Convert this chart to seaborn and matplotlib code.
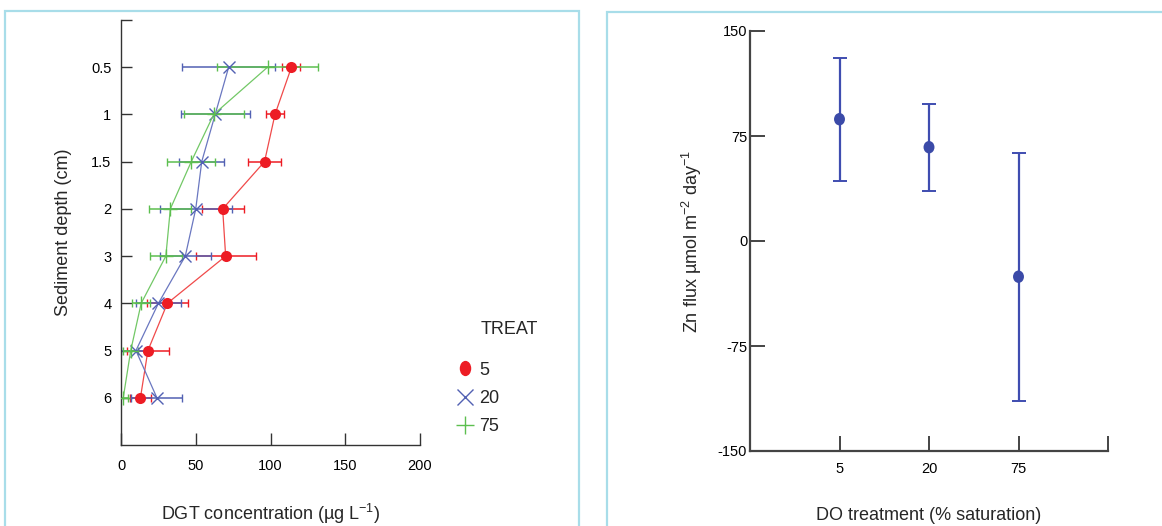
import numpy as np
import pandas as pd
import matplotlib.pyplot as plt
import seaborn as sns
from matplotlib.lines import Line2D
from matplotlib.patches import Rectangle
from matplotlib.path import Path

# ---- left panel: DGT profiles ----
depths = ["0.5", "1", "1.5", "2", "3", "4", "5", "6"]
treats = ["5", "20", "75"]
conc_5 = [114, 103, 96, 68, 70, 31, 18, 13]
err_5 = [6, 6, 11, 14, 20, 13.5, 14, 7]
conc_20 = [72, 63, 54, 50, 43, 25, 10, 24]
err_20 = [31, 23, 15, 24, 17, 15, 10, 17]
conc_75 = [98, 62, 47, 33, 30, 13.5, 6.5, 1.5]
err_75 = [34, 20, 16, 14, 10.5, 6, 5, 3]

# ---- right panel: Zn flux ----
do_treat = ["5", "20", "75"]
zn_flux = [87, 67, -25.5]
zn_err = [44, 31, 88.5]

sns.set_theme(style="white")
plt.rcParams["font.family"] = ["Liberation Sans", "DejaVu Sans"]
plt.rcParams["mathtext.fontset"] = "custom"
plt.rcParams["mathtext.rm"] = "Liberation Sans"
plt.rcParams["axes.unicode_minus"] = False

colors = {"5": "#ed1c24", "20": "#5261b3", "75": "#5cbf4f"}
line_colors = {"5": "#f04a4a", "20": "#6a77c0", "75": "#72c866"}
markers = {"5": "o", "20": "x", "75": "+"}
msize = {"5": 8, "20": 9, "75": 10}

df = pd.DataFrame({
    "depth": depths * 3,
    "pos": list(range(len(depths))) * 3,
    "conc": conc_5 + conc_20 + conc_75,
    "err": err_5 + err_20 + err_75,
    "treat": [t for t in treats for _ in depths],
})

fig = plt.figure(figsize=(11.62, 5.26), dpi=100)
W, H = 1162, 526

# panel frames
fig.patches.append(Rectangle((5 / W, -0.1), 574 / W, 1.1 - 11 / H,
                             transform=fig.transFigure, fill=False,
                             edgecolor="#a8dde9", lw=1.6))
fig.patches.append(Rectangle((607 / W, -0.1), 0.6, 1.1 - 12 / H,
                             transform=fig.transFigure, fill=False,
                             edgecolor="#a8dde9", lw=1.6))

ax1 = fig.add_axes([121 / W, 1 - 445 / H, 299 / W, 425 / H])
for t in treats:
    d = df[df["treat"] == t]
    ax1.errorbar(d["conc"], d["pos"], xerr=d["err"], fmt="none",
                 ecolor=colors[t], elinewidth=1.1, capsize=3, capthick=1,
                 zorder=2)
    sns.lineplot(data=d, x="conc", y="pos", orient="y", sort=True,
                 errorbar=None, color=line_colors[t], lw=0.9,
                 marker=markers[t], ms=msize[t],
                 mew=1.0 if t != "5" else 0,
                 mec=colors[t], mfc=colors[t], ax=ax1, zorder=3)

ax1.set_xlim(0, 200)
ax1.set_ylim(8, -1)
ax1.set_xticks([0, 50, 100, 150, 200])
ax1.set_yticks(range(-1, len(depths)))
ax1.set_yticklabels([""] + depths)
ax1.tick_params(direction="in", length=9, width=1, colors="#333333",
                labelsize=10.5, labelcolor="black", bottom=True, left=True)
ax1.tick_params(axis="y", length=8, pad=7)
ax1.tick_params(axis="x", pad=10)
for s in ["top", "right"]:
    ax1.spines[s].set_visible(False)
for s in ["left", "bottom"]:
    ax1.spines[s].set_color("#333333")
    ax1.spines[s].set_linewidth(1.0)
ax1.set_xlabel("DGT concentration (µg L$^{-1}$)", fontsize=13, labelpad=21)
ax1.set_ylabel("Sediment depth (cm)", fontsize=13)
ax1.yaxis.set_label_coords(-0.164, 0.5)

ell = Path(Path.unit_circle().vertices * np.array([0.75, 1.0]),
           Path.unit_circle().codes)
ell2 = Path(Path.unit_circle().vertices * np.array([0.88, 1.0]),
            Path.unit_circle().codes)
handles = [
    Line2D([], [], ls="none", marker=ell, ms=11, color=colors["5"], mew=0),
    Line2D([], [], ls="none", marker="x", ms=11, color=colors["20"], mew=1),
    Line2D([], [], ls="none", marker="+", ms=13, color=colors["75"], mew=1),
]
fig.text(481 / W, 1 - 329 / H, "TREAT", fontsize=13, va="center", ha="left")
fig.legend(handles, treats, loc="upper left",
           bbox_to_anchor=(445 / W, 1 - 349 / H), frameon=False,
           fontsize=13, handlelength=0.8, handletextpad=0.4,
           labelspacing=0.62, borderpad=0.2)

# right panel
ax2 = fig.add_axes([750 / W, 1 - 451 / H, 358 / W, 420 / H])
pos2 = np.arange(1, len(do_treat) + 1)
ax2.errorbar(pos2, zn_flux, yerr=zn_err, fmt="none", ecolor="#3f4db0",
             elinewidth=1.6, capsize=5, capthick=1.4)
sns.scatterplot(x=pos2, y=zn_flux, color="#3b4aa8", s=80, marker=ell2,
                edgecolor="none", ax=ax2, zorder=3)
ax2.set_xlim(0, 4)
ax2.set_ylim(-150, 150)
ax2.set_xticks([1, 2, 3, 4])
ax2.set_xticklabels(do_treat + [""])
ax2.set_yticks([-150, -75, 0, 75, 150])
ax2.tick_params(direction="in", length=11, width=1.4, colors="#444444",
                labelsize=10.5, labelcolor="black", bottom=True, left=True)
ax2.tick_params(axis="x", pad=8)
ax2.tick_params(axis="y", pad=2)
for s in ["top", "right"]:
    ax2.spines[s].set_visible(False)
for s in ["left", "bottom"]:
    ax2.spines[s].set_color("#444444")
    ax2.spines[s].set_linewidth(1.6)
ax2.set_xlabel("DO treatment (% saturation)", fontsize=13, labelpad=22)
ax2.set_ylabel("Zn flux µmol m$^{-2}$ day$^{-1}$", fontsize=13)
ax2.yaxis.set_label_coords(-0.128, 0.5)

fig.savefig("out.png", dpi=100, facecolor="white")
